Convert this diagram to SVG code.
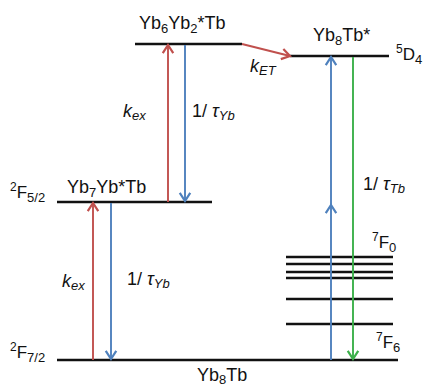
<svg xmlns="http://www.w3.org/2000/svg" width="426" height="387" viewBox="0 0 426 387">
<style>
text{font-family:"Liberation Sans",Arial,sans-serif;fill:#111}
.lab{font-size:18px}
.term{font-size:17px}
.rate{font-size:18px}
.it{font-style:italic}
.lvl{stroke:#111;stroke-width:2.4;fill:none}
.red{stroke:#c0504d;stroke-width:1.9;fill:none}
.blue{stroke:#4f81bd;stroke-width:1.9;fill:none}
.green{stroke:#3cb04a;stroke-width:1.9;fill:none}
</style>
<defs>
<marker id="ar" markerUnits="userSpaceOnUse" markerWidth="14" markerHeight="14" viewBox="-8 -6 10 12" refX="0" refY="0" orient="auto"><path d="M-7,-4.5 L0,0 L-7,4.5" stroke="#c0504d" stroke-width="1.9" fill="none"/></marker>
<marker id="ab" markerUnits="userSpaceOnUse" markerWidth="14" markerHeight="14" viewBox="-8 -6 10 12" refX="0" refY="0" orient="auto"><path d="M-7,-4.5 L0,0 L-7,4.5" stroke="#4f81bd" stroke-width="1.9" fill="none"/></marker>
<marker id="ag" markerUnits="userSpaceOnUse" markerWidth="14" markerHeight="14" viewBox="-8 -6 10 12" refX="0" refY="0" orient="auto"><path d="M-7,-4.5 L0,0 L-7,4.5" stroke="#3cb04a" stroke-width="1.9" fill="none"/></marker>
</defs>

<g id="level-Yb6Yb2Tb">
<line class="lvl" x1="135" y1="44" x2="242" y2="44"/>
<text class="lab" x="139" y="29">Yb<tspan font-size="13" dy="4">6</tspan><tspan dy="-4">Yb</tspan><tspan font-size="13" dy="4">2</tspan><tspan dy="-4">*Tb</tspan></text>
</g>

<g id="level-Yb8Tbstar">
<line class="lvl" x1="290" y1="56" x2="389" y2="56"/>
<text class="lab" x="313" y="41">Yb<tspan font-size="13" dy="4">8</tspan><tspan dy="-4">Tb*</tspan></text>
<text class="term" x="396" y="60"><tspan font-size="12" dy="-7">5</tspan><tspan dy="7">D</tspan><tspan font-size="13" dy="4">4</tspan></text>
</g>

<g id="level-Yb7YbTb">
<line class="lvl" x1="57" y1="202" x2="212" y2="202"/>
<text class="lab" x="67" y="193">Yb<tspan font-size="13" dy="4">7</tspan><tspan dy="-4">Yb*Tb</tspan></text>
<text class="term" x="10" y="198"><tspan font-size="12" dy="-7">2</tspan><tspan dy="7">F</tspan><tspan font-size="13" dy="4">5/2</tspan></text>
</g>

<g id="level-Yb8Tb">
<line class="lvl" x1="57" y1="360" x2="398" y2="360"/>
<text class="lab" x="197" y="381">Yb<tspan font-size="13" dy="3">8</tspan><tspan dy="-3">Tb</tspan></text>
<text class="term" x="10" y="358"><tspan font-size="12" dy="-7">2</tspan><tspan dy="7">F</tspan><tspan font-size="13" dy="4">7/2</tspan></text>
</g>

<g id="levels-7F">
<line class="lvl" x1="286" y1="257" x2="393" y2="257"/>
<line class="lvl" x1="286" y1="264" x2="393" y2="264"/>
<line class="lvl" x1="286" y1="272" x2="393" y2="272"/>
<line class="lvl" x1="286" y1="278" x2="393" y2="278"/>
<line class="lvl" x1="286" y1="299" x2="393" y2="299"/>
<line class="lvl" x1="286" y1="324" x2="393" y2="324"/>
<text class="term" x="372" y="248"><tspan font-size="12" dy="-7">7</tspan><tspan dy="7">F</tspan><tspan font-size="13" dy="4">0</tspan></text>
<text class="term" x="376" y="348"><tspan font-size="12" dy="-7">7</tspan><tspan dy="7">F</tspan><tspan font-size="13" dy="4">6</tspan></text>
</g>

<g id="connectors">
<path class="red" d="M242,44 L290,56" marker-end="url(#ar)"/>
<path class="red" d="M168,202 L168,45" marker-end="url(#ar)"/>
<path class="blue" d="M185,45 L185,201" marker-end="url(#ab)"/>
<path class="red" d="M93,360 L93,203" marker-end="url(#ar)"/>
<path class="blue" d="M111,203 L111,359" marker-end="url(#ab)"/>
<path class="blue" d="M331,360 L331,205 L331,57" marker-mid="url(#ab)" marker-end="url(#ab)"/>
<path class="green" d="M353,57 L353,359" marker-end="url(#ag)"/>
</g>

<g id="labels">
<text class="rate it" x="250" y="72">k<tspan font-size="13" dy="3">ET</tspan></text>
<text class="rate it" x="123" y="117">k<tspan font-size="13" dy="3">ex</tspan></text>
<text class="rate it" x="62" y="287">k<tspan font-size="13" dy="3">ex</tspan></text>
<text class="rate" x="192" y="117">1/ <tspan class="it">τ</tspan><tspan class="it" font-size="13" dy="3">Yb</tspan></text>
<text class="rate" x="127" y="285">1/ <tspan class="it">τ</tspan><tspan class="it" font-size="13" dy="3">Yb</tspan></text>
<text class="rate" x="363" y="190">1/ <tspan class="it">τ</tspan><tspan class="it" font-size="13" dy="3">Tb</tspan></text>
</g>
</svg>
